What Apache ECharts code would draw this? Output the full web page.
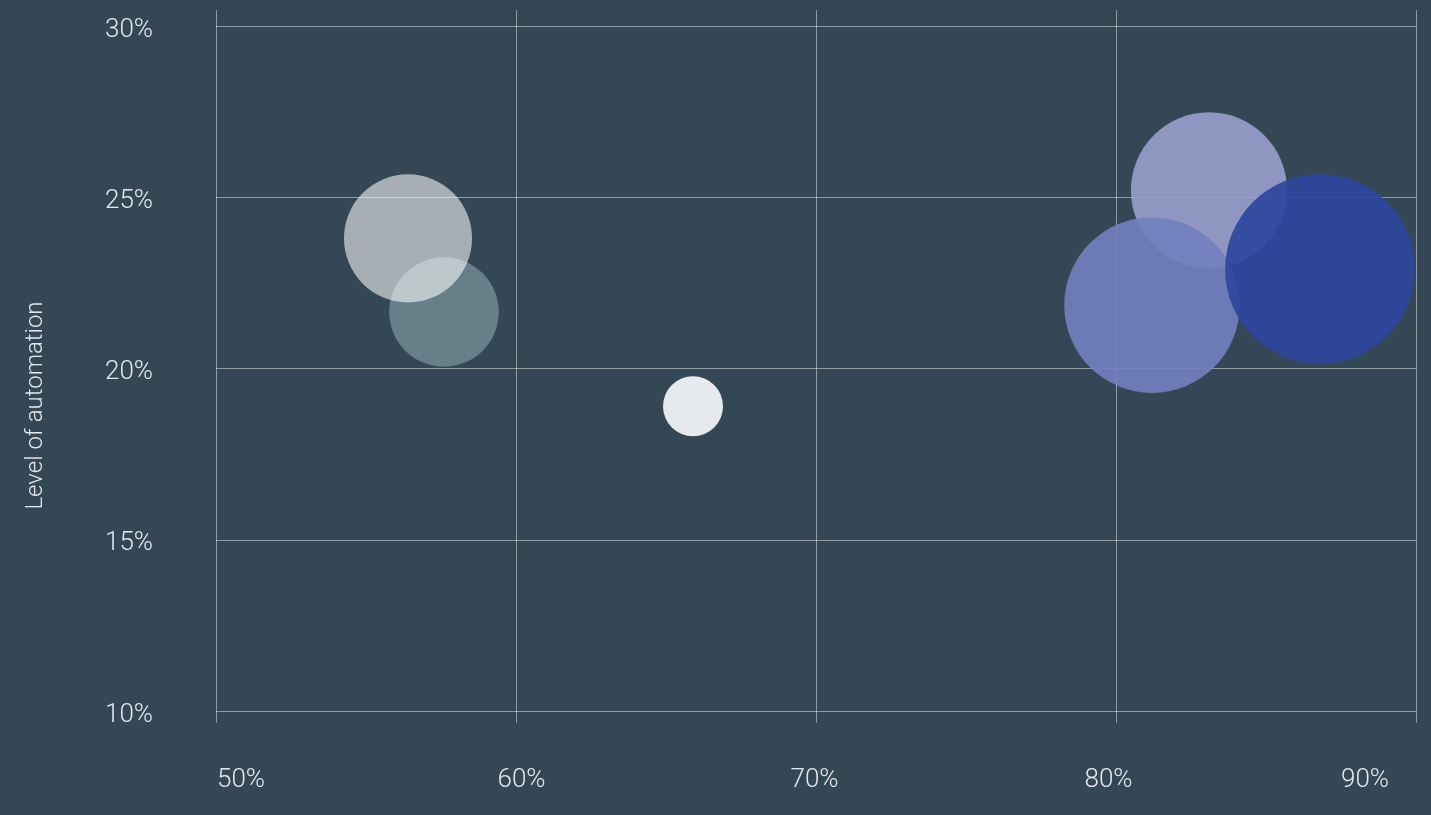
<!DOCTYPE html>
<html>
<head>
<meta charset="utf-8">
<script src="https://cdn.jsdelivr.net/npm/echarts@6/dist/echarts.min.js"></script>
<style>
	html, body { margin: 0; padding: 0; background: #344755; }
	#chart { width: 1431px; height: 815px; }
</style>
</head>
<body>
<div id="chart"></div>
<script>
// bubble data: x = share (%), y = level of automation (%), weight = bubble size value
var xVals = [57.6, 56.4, 65.9, 83.1, 81.2, 86.8];
var yVals = [21.65, 23.8, 18.9, 25.2, 21.85, 22.9];
var weights = [30, 41, 9, 61, 77, 90];
var xTicks = [50, 60, 70, 80, 90];
var yTicks = [10, 15, 20, 25, 30];
var yName = 'Level of automation';

var bubbleColors = ['#738d95', '#ffffff', '#f1f3f4', '#99a0cc', '#7280c0', '#2c479e'];
var bubbleOpacity = [0.8, 0.57, 0.95, 0.9, 0.9, 0.92];
// horizontal nudges for the x labels, as in the original layout
var xLabelShift = [25, 5.5, -1.5, -7.5, -51];

window.onload = function() {
	var myChart = echarts.init(document.getElementById('chart'));

	var data = [];
	for (var i = 0; i < xVals.length; i++) {
		data.push({
			value: [xVals[i], yVals[i], weights[i]],
			itemStyle: { color: bubbleColors[i], opacity: bubbleOpacity[i] }
		});
	}

	var labelFont = { fontFamily: 'Roboto', fontWeight: 300, fontSize: 26, color: '#e4e8eb' };

	var rich = {};
	for (var j = 0; j < xLabelShift.length; j++) {
		var d = xLabelShift[j];
		rich['s' + j] = Object.assign({
			padding: d > 0 ? [0, 0, 0, 2 * d] : [0, -2 * d, 0, 0]
		}, labelFont);
	}

	var lineColor = 'rgba(255,255,255,0.45)';

	var option = {
		backgroundColor: '#344755',
		animation: false,
		grid: { left: 216, right: 15, top: 26, bottom: 104 },
		xAxis: [{
			type: 'value',
			min: xTicks[0],
			max: xTicks[xTicks.length - 1],
			interval: 10,
			position: 'bottom',
			axisLine: { show: false },
			axisTick: { show: true, length: 12, lineStyle: { color: lineColor } },
			splitLine: { show: true, lineStyle: { color: lineColor, width: 1 } },
			axisLabel: {
				margin: 56,
				formatter: function(v) {
					var k = xTicks.indexOf(v);
					return '{s' + k + '|' + v + '%}';
				},
				rich: rich
			}
		}, {
			type: 'value',
			min: xTicks[0],
			max: xTicks[xTicks.length - 1],
			interval: 10,
			position: 'top',
			axisLine: { show: false },
			axisTick: { show: true, length: 16, lineStyle: { color: lineColor } },
			splitLine: { show: false },
			axisLabel: { show: false }
		}],
		yAxis: {
			type: 'value',
			min: yTicks[0],
			max: yTicks[yTicks.length - 1],
			interval: 5,
			axisLine: { show: false },
			axisTick: { show: false },
			splitLine: { show: true, lineStyle: { color: lineColor, width: 1 } },
			axisLabel: {
				align: 'center',
				margin: 87,
				formatter: '{t|{value}%}',
				rich: { t: Object.assign({ padding: [8, 0, 0, 0] }, labelFont) }
			},
			name: yName,
			nameLocation: 'middle',
			nameGap: 168,
			nameRotate: 90,
			nameTextStyle: {
				fontFamily: 'Roboto', fontWeight: 300, fontSize: 24, color: '#e4e8eb',
				padding: [0, 74, 0, 0]
			}
		},
		series: [{
			type: 'scatter',
			xAxisIndex: 0,
			symbol: 'circle',
			symbolSize: function(val) {
				return Math.sqrt(val[2]) * 20;
			},
			itemStyle: { borderWidth: 0 },
			emphasis: { disabled: true },
			data: data
		}]
	};
	myChart.setOption(option);
};
</script>
</body>
</html>
